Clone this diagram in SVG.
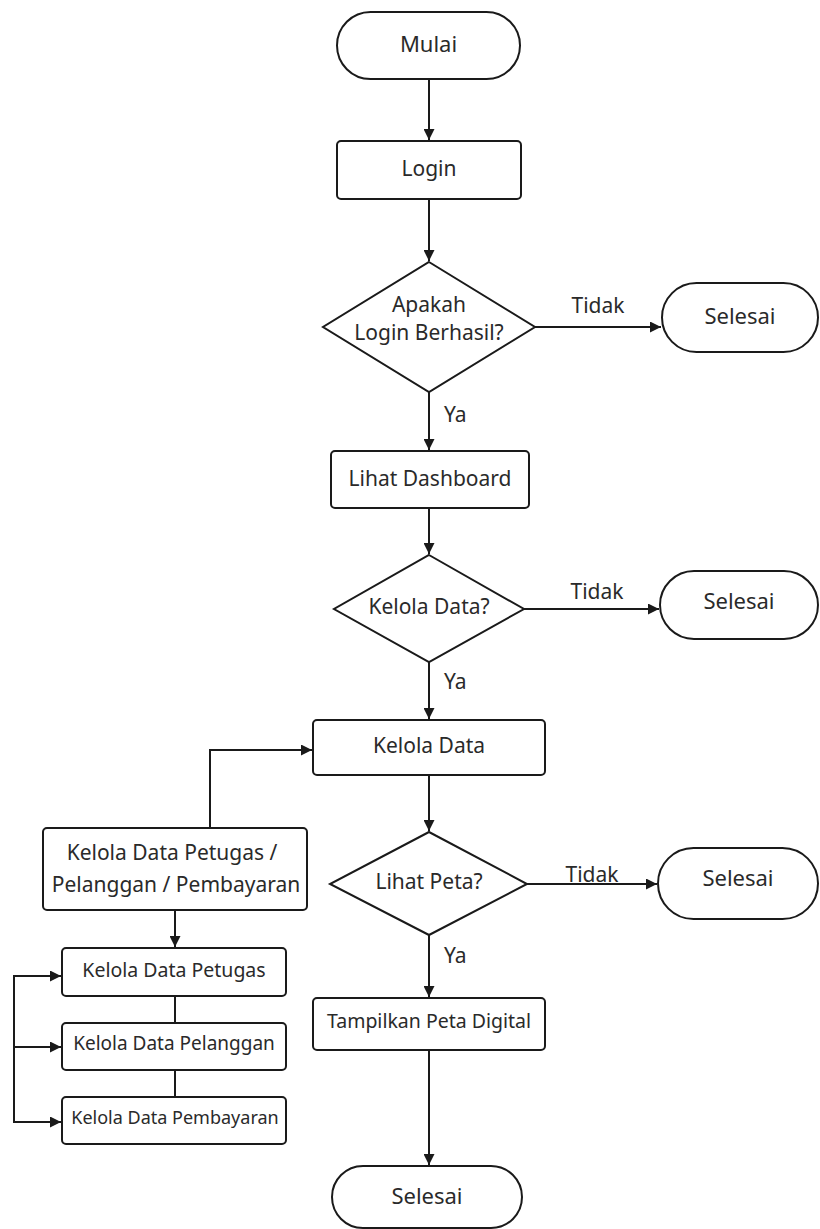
<svg xmlns="http://www.w3.org/2000/svg" width="820" height="1229" viewBox="0 0 820 1229">
<style>
.s{fill:#fff;stroke:#1a1a1a;stroke-width:2}
.t{font-family:"Noto Sans","Open Sans",sans-serif;font-size:21px;fill:#2a2a2a;text-anchor:middle}
.l{font-family:"Noto Sans","Open Sans",sans-serif;font-size:21px;fill:#2a2a2a}
.c{fill:none;stroke:#1a1a1a;stroke-width:2}
</style>
<defs>
<marker id="a" viewBox="0 0 10 10" refX="10" refY="5" markerWidth="11" markerHeight="11" markerUnits="userSpaceOnUse" orient="auto">
<path d="M0,0 L10,5 L0,10 z" fill="#1a1a1a"/>
</marker>
</defs>
<rect width="820" height="1229" fill="#fff"/>
<g id="connectors">
<path class="c" d="M429,79 V140" marker-end="url(#a)"/>
<path class="c" d="M429,199 V261" marker-end="url(#a)"/>
<path class="c" d="M535,327 H661" marker-end="url(#a)"/>
<path class="c" d="M429,392 V450" marker-end="url(#a)"/>
<path class="c" d="M429,508 V554" marker-end="url(#a)"/>
<path class="c" d="M524,609 H659" marker-end="url(#a)"/>
<path class="c" d="M429,662 V719" marker-end="url(#a)"/>
<path class="c" d="M429,775 V831" marker-end="url(#a)"/>
<path class="c" d="M527,884 H657" marker-end="url(#a)"/>
<path class="c" d="M429,935 V997" marker-end="url(#a)"/>
<path class="c" d="M429,1050 V1165" marker-end="url(#a)"/>
<path class="c" d="M210,828 V750 H312" marker-end="url(#a)"/>
<path class="c" d="M175,910 V947" marker-end="url(#a)"/>
<path class="c" d="M175,996 V1023"/>
<path class="c" d="M175,1070 V1097"/>
<path class="c" d="M14,976 V1122"/>
<path class="c" d="M13,976 H61" marker-end="url(#a)"/>
<path class="c" d="M14,1047 H61" marker-end="url(#a)"/>
<path class="c" d="M13,1122 H61" marker-end="url(#a)"/>
<text class="t" x="598" y="313">Tidak</text>
<text class="l" x="444" y="422">Ya</text>
<text class="t" x="597" y="599">Tidak</text>
<text class="l" x="444" y="689">Ya</text>
<text class="t" x="592" y="882">Tidak</text>
<text class="l" x="444" y="963">Ya</text>
</g>
<g id="mulai">
<rect class="s" x="337" y="12" width="183" height="67" rx="33.5"/>
<text class="t" x="428.5" y="52" style="font-size:22px">Mulai</text>
</g>
<g id="login">
<rect class="s" x="337" y="141" width="184" height="58" rx="4"/>
<text class="t" x="429" y="176">Login</text>
</g>
<g id="cek-login">
<polygon class="s" points="429,262 535,327 429,392 323,327"/>
<text class="t" x="429" y="312">Apakah</text>
<text class="t" x="429" y="340">Login Berhasil?</text>
</g>
<g id="selesai1">
<rect class="s" x="662" y="283" width="156" height="69" rx="34.5"/>
<text class="t" x="740" y="324" style="font-size:22px">Selesai</text>
</g>
<g id="dashboard">
<rect class="s" x="331" y="451" width="198" height="57" rx="4"/>
<text class="t" x="430" y="486">Lihat Dashboard</text>
</g>
<g id="cek-kelola">
<polygon class="s" points="429,555 524,609 429,662 334,609"/>
<text class="t" x="429" y="614">Kelola Data?</text>
</g>
<g id="selesai2">
<rect class="s" x="660" y="571" width="158" height="68" rx="34"/>
<text class="t" x="739" y="609" style="font-size:22px">Selesai</text>
</g>
<g id="kelola-data">
<rect class="s" x="313" y="720" width="232" height="55" rx="4"/>
<text class="t" x="429" y="753">Kelola Data</text>
</g>
<g id="kelola-sub">
<rect class="s" x="43" y="828" width="264" height="82" rx="4"/>
<text class="t" x="172" y="860">Kelola Data Petugas /</text>
<text class="t" x="176" y="892">Pelanggan / Pembayaran</text>
</g>
<g id="petugas">
<rect class="s" x="62" y="948" width="224" height="48" rx="4"/>
<text class="t" x="174" y="977" style="font-size:19.5px">Kelola Data Petugas</text>
</g>
<g id="pelanggan">
<rect class="s" x="62" y="1023" width="224" height="47" rx="4"/>
<text class="t" x="174" y="1050" style="font-size:19px">Kelola Data Pelanggan</text>
</g>
<g id="pembayaran">
<rect class="s" x="62" y="1097" width="224" height="47" rx="4"/>
<text class="t" x="175" y="1124" style="font-size:18px">Kelola Data Pembayaran</text>
</g>
<g id="cek-peta">
<polygon class="s" points="429,832 527,884 429,935 330,884"/>
<text class="t" x="429" y="889">Lihat Peta?</text>
</g>
<g id="selesai3">
<rect class="s" x="658" y="848" width="160" height="71" rx="35.5"/>
<text class="t" x="738" y="886" style="font-size:22px">Selesai</text>
</g>
<g id="peta">
<rect class="s" x="313" y="998" width="232" height="52" rx="4"/>
<text class="t" x="429" y="1028" style="font-size:19.5px">Tampilkan Peta Digital</text>
</g>
<g id="selesai4">
<rect class="s" x="332" y="1166" width="190" height="62" rx="31"/>
<text class="t" x="427" y="1204" style="font-size:22px">Selesai</text>
</g>
</svg>
